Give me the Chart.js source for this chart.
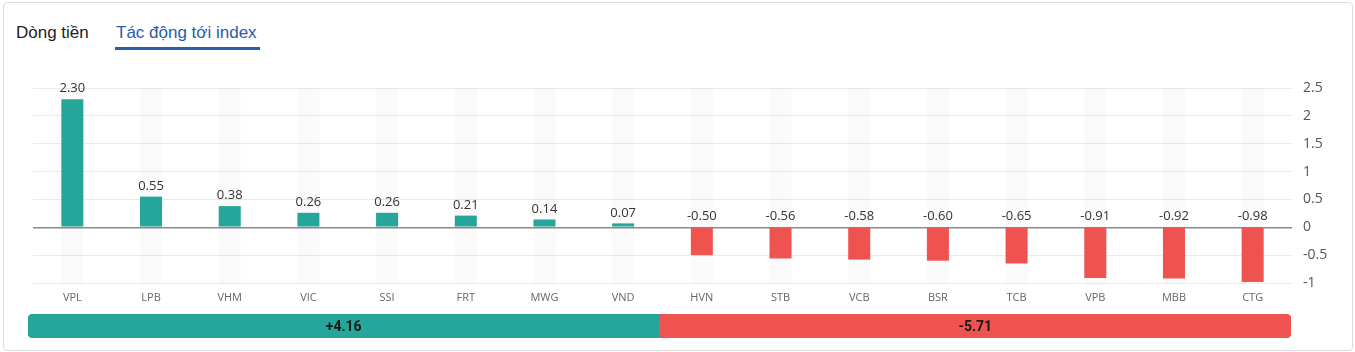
<!DOCTYPE html>
<html>
<head>
<meta charset="utf-8">
<script src="https://cdn.jsdelivr.net/npm/chart.js@4"></script>
<style>
  html, body { margin: 0; padding: 0; background: #fff; }
  body { width: 1355px; height: 352px; position: relative; overflow: hidden; }
  .card { position: absolute; left: 3px; top: 2px; width: 1348px; height: 347px; border: 1px solid #dcdcdc; border-radius: 4px; }
  .tab { position: absolute; top: 23px; font: 17px "Liberation Sans", Arial, sans-serif; color: #222; }
  .tab.active { color: #2a5caa; }
  .underline { position: absolute; left: 115px; top: 47px; width: 145px; height: 3px; background: #2a5caa; }
  #mainWrap { position: absolute; left: 33px; top: 60px; width: 1309px; height: 247px; }
  #sumWrap { position: absolute; left: 28px; top: 314px; width: 1263px; height: 24px; }
</style>
</head>
<body>
<div class="card"></div>
<div class="tab" style="left:16px">Dòng tiền</div>
<div class="tab active" style="left:116px">Tác động tới index</div>
<div class="underline"></div>
<div id="mainWrap"><canvas id="impactChart"></canvas></div>
<div id="sumWrap"><canvas id="sumChart"></canvas></div>
<script>
// tickers and their impact on the index (points)
const tickers = ['VPL', 'LPB', 'VHM', 'VIC', 'SSI', 'FRT', 'MWG', 'VND',
  'HVN', 'STB', 'VCB', 'BSR', 'TCB', 'VPB', 'MBB', 'CTG'];
const impact = [2.30, 0.55, 0.38, 0.26, 0.26, 0.21, 0.14, 0.07,
  -0.50, -0.56, -0.58, -0.60, -0.65, -0.91, -0.92, -0.98];
const yMin = -1;
const yMax = 2.5;
const yStep = 0.5;
// totals shown in the summary bar
const totalUp = 4.16;
const totalDown = -5.71;

const GREEN = '#26a69a';
const RED = '#ef5350';

// light column behind every category + value labels
const decorPlugin = {
  id: 'decor',
  beforeDatasetsDraw(chart) {
    const { ctx, chartArea } = chart;
    const meta = chart.getDatasetMeta(0);
    ctx.save();
    ctx.fillStyle = 'rgba(0,0,0,0.02)';
    meta.data.forEach(bar => {
      const w = bar.width;
      ctx.fillRect(bar.x - w / 2, chartArea.top, w, chartArea.bottom - chartArea.top);
    });
    ctx.restore();
  },
  afterDatasetsDraw(chart) {
    const { ctx, scales } = chart;
    const zero = scales.y.getPixelForValue(0);
    const meta = chart.getDatasetMeta(0);
    ctx.save();
    ctx.font = '13px "Open Sans", sans-serif';
    ctx.fillStyle = '#333';
    ctx.textAlign = 'center';
    ctx.textBaseline = 'bottom';
    meta.data.forEach((bar, i) => {
      const top = Math.min(bar.y, zero);
      ctx.fillText(impact[i].toFixed(2), bar.x, top - 4);
    });
    ctx.restore();
  }
};

new Chart(document.getElementById('impactChart'), {
  type: 'bar',
  data: {
    labels: tickers,
    datasets: [{
      data: impact,
      backgroundColor: impact.map(v => v >= 0 ? GREEN : RED),
      borderWidth: 0,
      barPercentage: 0.28,
      categoryPercentage: 1
    }]
  },
  options: {
    responsive: true,
    maintainAspectRatio: false,
    animation: false,
    layout: { padding: { top: 28, left: 0, right: 0, bottom: 0 } },
    plugins: { legend: { display: false }, tooltip: { enabled: false } },
    scales: {
      x: {
        grid: { display: false, drawTicks: false },
        border: { display: false },
        ticks: { color: '#666', font: { family: '"Open Sans", sans-serif', size: 11 }, padding: 8, maxRotation: 0 },
        afterFit(axis) { axis.height = 24; }
      },
      y: {
        position: 'right',
        min: yMin,
        max: yMax,
        grid: {
          drawTicks: false,
          color: ctx => ctx.tick && ctx.tick.value === 0 ? '#8a8a8a' : '#e8eaf1',
          lineWidth: ctx => ctx.tick && ctx.tick.value === 0 ? 1.5 : 1
        },
        border: { display: false },
        ticks: {
          stepSize: yStep,
          padding: 11,
          color: '#555',
          font: { family: '"Open Sans", sans-serif', size: 14 },
          callback: v => String(+v)
        },
        afterFit(axis) { axis.width = 50; }
      }
    }
  },
  plugins: [decorPlugin]
});

// summary bar: split by number of gainers vs losers
const upCount = impact.filter(v => v >= 0).length;
const downCount = impact.filter(v => v < 0).length;

const sumLabels = {
  id: 'sumLabels',
  afterDatasetsDraw(chart) {
    const { ctx } = chart;
    const texts = ['+' + totalUp.toFixed(2), totalDown.toFixed(2)];
    ctx.save();
    ctx.font = 'bold 14px Roboto, sans-serif';
    ctx.fillStyle = '#1a1a1a';
    ctx.textAlign = 'center';
    ctx.textBaseline = 'middle';
    chart.data.datasets.forEach((ds, i) => {
      const bar = chart.getDatasetMeta(i).data[0];
      ctx.fillText(texts[i], (bar.x + bar.base) / 2, bar.y + 1);
    });
    ctx.restore();
  }
};

new Chart(document.getElementById('sumChart'), {
  type: 'bar',
  data: {
    labels: [''],
    datasets: [
      { data: [upCount], backgroundColor: GREEN, borderWidth: 0,
        borderRadius: { topLeft: 5, bottomLeft: 5, topRight: 0, bottomRight: 0 }, borderSkipped: false },
      { data: [downCount], backgroundColor: RED, borderWidth: 0,
        borderRadius: { topLeft: 0, bottomLeft: 0, topRight: 5, bottomRight: 5 }, borderSkipped: false }
    ]
  },
  options: {
    indexAxis: 'y',
    responsive: true,
    maintainAspectRatio: false,
    animation: false,
    layout: { padding: 0 },
    plugins: { legend: { display: false }, tooltip: { enabled: false } },
    datasets: { bar: { barPercentage: 1, categoryPercentage: 1 } },
    scales: {
      x: { stacked: true, display: false, min: 0, max: upCount + downCount },
      y: { stacked: true, display: false }
    }
  },
  plugins: [sumLabels]
});
</script>
</body>
</html>
